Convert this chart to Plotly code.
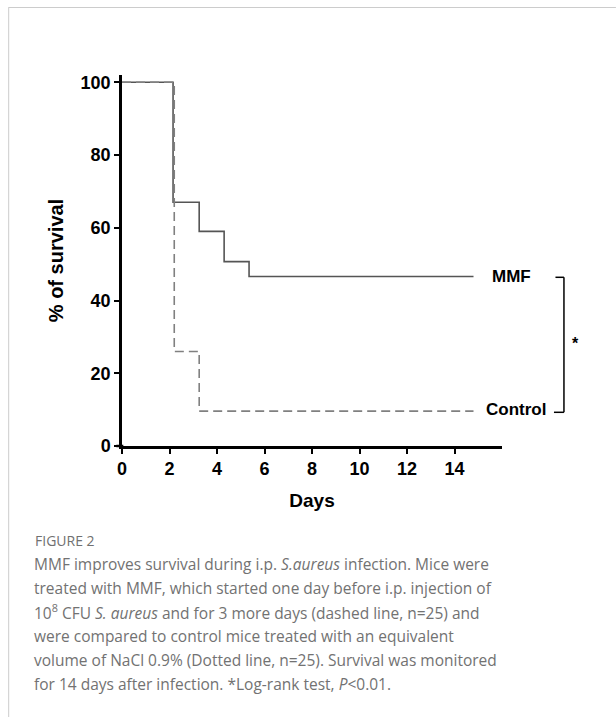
import plotly.graph_objects as go

# ---- data ----
mmf_days = [0, 2.15, 3.25, 4.3, 5.35, 14.8]
mmf_surv = [100, 67.0, 59.0, 50.7, 46.6, 46.6]
ctrl_days = [0, 2.2, 3.25, 14.8]
ctrl_surv = [100, 26.0, 9.6, 9.6]
x_ticks = [0, 2, 4, 6, 8, 10, 12, 14]
y_ticks = [0, 20, 40, 60, 80, 100]

W, H = 616, 717
L, R, T, B = 121.7, 502.0, 75.0, 446.0


def px(x):
    return (x - L) / (R - L)


def py(y):
    return (B - y) / (B - T)


AX_FONT = "Liberation Sans"
CAP_FONT = "Open Sans"

fig = go.Figure()
fig.add_trace(go.Scatter(x=mmf_days, y=mmf_surv, mode="lines", line_shape="hv",
                         line=dict(color="#555555", width=1.6), name="MMF",
                         showlegend=False))
fig.add_trace(go.Scatter(x=ctrl_days, y=ctrl_surv, mode="lines", line_shape="hv",
                         line=dict(color="#808080", width=1.6, dash="9px,5px"),
                         name="Control", showlegend=False))

axis_common = dict(showgrid=False, zeroline=False, showline=True, linecolor="black",
                   linewidth=2.5, ticks="outside", ticklen=5, tickwidth=2,
                   tickcolor="black",
                   tickfont=dict(family=AX_FONT, size=18, color="black", weight="bold"))

fig.update_xaxes(range=[0, 16], tickvals=x_ticks, ticktext=[str(v) for v in x_ticks],
                 title=dict(text="<b>Days</b>", font=dict(family=AX_FONT, size=19, color="black"),
                            standoff=16),
                 **axis_common)
fig.update_yaxes(range=[0, 102], tickvals=y_ticks, ticktext=[str(v) for v in y_ticks],
                 title=dict(text="<b>% of survival</b>", font=dict(family=AX_FONT, size=20, color="black"),
                            standoff=12),
                 **axis_common)

shapes = []
# small left extension of the x axis line
shapes.append(dict(type="line", xref="paper", yref="paper", x0=px(116), x1=px(123),
                   y0=0, y1=0, line=dict(color="black", width=2.5)))
# bracket
bk = dict(color="black", width=1.5)
shapes.append(dict(type="line", xref="paper", yref="paper", x0=px(555.5), x1=px(564),
                   y0=py(277.3), y1=py(277.3), line=bk))
shapes.append(dict(type="line", xref="paper", yref="paper", x0=px(564), x1=px(564),
                   y0=py(277.3), y1=py(412.3), line=bk))
shapes.append(dict(type="line", xref="paper", yref="paper", x0=px(554), x1=px(564),
                   y0=py(412.3), y1=py(412.3), line=bk))
# frame lines of the page
fr = dict(color="#cccccc", width=1)
shapes.append(dict(type="line", xref="paper", yref="paper", x0=px(8), x1=px(616),
                   y0=py(7.5), y1=py(7.5), line=fr))
shapes.append(dict(type="line", xref="paper", yref="paper", x0=px(8.3), x1=px(8.3),
                   y0=py(7.5), y1=py(717), line=fr))

annotations = [
    dict(text="<b>MMF</b>", x=px(512), y=py(276), xref="paper", yref="paper",
         showarrow=False, xanchor="center", yanchor="middle",
         font=dict(family=AX_FONT, size=17, color="black")),
    dict(text="<b>Control</b>", x=px(516.5), y=py(409), xref="paper", yref="paper",
         showarrow=False, xanchor="center", yanchor="middle",
         font=dict(family=AX_FONT, size=17, color="black")),
    dict(text="<b>*</b>", x=px(576), y=py(343), xref="paper", yref="paper",
         showarrow=False, xanchor="center", yanchor="middle",
         font=dict(family=AX_FONT, size=16, color="black")),
    dict(text="FIGURE 2", x=px(33), y=py(540), xref="paper", yref="paper",
         showarrow=False, xanchor="left", yanchor="middle",
         font=dict(family=CAP_FONT, size=14, color="#707070")),
]

caption_lines = [
    "MMF improves survival during i.p. <i>S.aureus</i> infection. Mice were",
    "treated with MMF, which started one day before i.p. injection of",
    "10<sup>8</sup> CFU <i>S. aureus</i> and for 3 more days (dashed line, n=25) and",
    "were compared to control mice treated with an equivalent",
    "volume of NaCl 0.9% (Dotted line, n=25). Survival was monitored",
    "for 14 days after infection. *Log-rank test, <i>P</i>&lt;0.01.",
]
caption_y = [563.5, 587.5, 611.5, 635.5, 659.5, 683.5]
for line, yy in zip(caption_lines, caption_y):
    annotations.append(dict(text=line, x=px(32), y=py(yy), xref="paper", yref="paper",
                            showarrow=False, xanchor="left", yanchor="middle",
                            font=dict(family=CAP_FONT, size=15.5, color="#727272")))

fig.update_layout(
    width=W, height=H,
    margin=dict(l=L, r=W - R, t=T, b=H - B, autoexpand=False),
    paper_bgcolor="white", plot_bgcolor="white",
    shapes=shapes, annotations=annotations,
)

fig.write_html("out.html", config={"displayModeBar": False},
               post_script="document.body.style.margin='0';document.body.style.padding='0';")
